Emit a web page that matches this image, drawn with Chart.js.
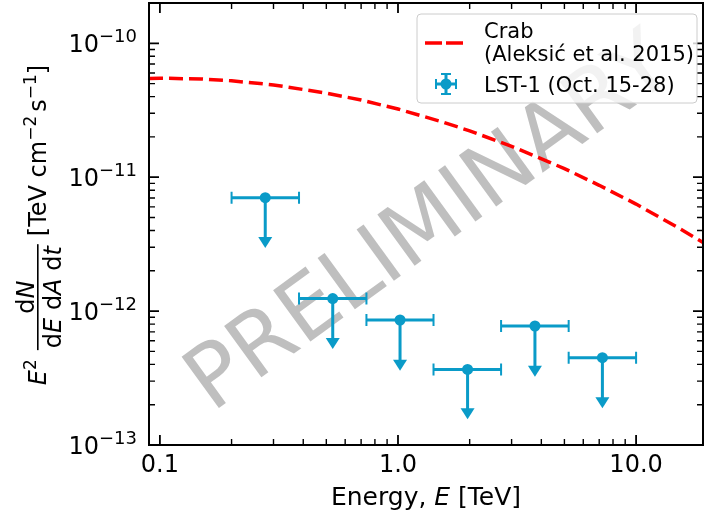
<!DOCTYPE html>
<html>
<head>
<meta charset="utf-8">
<script src="https://cdn.jsdelivr.net/npm/chart.js@4.4.0/dist/chart.umd.min.js"></script>
<style>
  html, body { margin: 0; padding: 0; background: #fff; }
</style>
</head>
<body>
<canvas id="myChart" width="704" height="518"></canvas>
<script>
// Crab reference spectrum, E^2 dN/dE
const crabEnergy = [0.09, 0.1, 0.15, 0.2, 0.3, 0.5, 0.7, 1.0, 1.5, 2.0, 3.0, 5.0, 7.0, 10.0, 15.0, 20.0]
const crabFlux = [5.47e-11, 5.49e-11, 5.41e-11, 5.25e-11, 4.89e-11, 4.25e-11, 3.77e-11, 3.23e-11,
                  2.62e-11, 2.22e-11, 1.70e-11, 1.16e-11, 8.7e-12, 6.3e-12, 4.2e-12, 3.1e-12]

// LST-1 upper limits: bin centre, bin edges, limit value, end of the arrow
const lstEnergy = [0.277, 0.532, 1.02, 1.96, 3.76, 7.22]
const lstBinLow = [0.2, 0.384, 0.737, 1.41, 2.71, 5.21]
const lstBinHigh = [0.384, 0.737, 1.41, 2.71, 5.21, 10.0]
const lstFlux = [7.03e-12, 1.24e-12, 8.58e-13, 3.67e-13, 7.74e-13, 4.49e-13]
const lstArrowEnd = [2.96e-12, 5.21e-13, 3.59e-13, 1.56e-13, 3.24e-13, 1.88e-13]

// tick labels
const xMajorTicks = [0.1, 1, 10]
const xTickLabels = ['0.1', '1.0', '10.0']
const yMajorTicks = [1e-13, 1e-12, 1e-11, 1e-10]
const yTickExponents = ['\u221213', '\u221212', '\u221211', '\u221210']

const FONT = "'DejaVu Sans'"
const BLUE = '#0a9bc8'
const RED = '#ff0000'

// minor tick positions for a log axis (2..9 in every decade)
function minorTicks(min, max) {
  var out = []
  for (var d = Math.floor(Math.log10(min)); d <= Math.ceil(Math.log10(max)); d++) {
    for (var m = 2; m <= 9; m++) {
      var v = m * Math.pow(10, d)
      if (v >= min && v <= max) out.push(v)
    }
  }
  return out
}

// gray PRELIMINARY text behind the data
const watermark = {
  id: 'watermark',
  beforeDatasetsDraw(chart) {
    const ctx = chart.ctx
    ctx.save()
    ctx.translate(426, 218)
    ctx.rotate(-36 * Math.PI / 180)
    ctx.font = '87px ' + FONT
    ctx.fillStyle = 'rgba(128,128,128,0.5)'
    ctx.textAlign = 'center'
    ctx.textBaseline = 'alphabetic'
    ctx.fillText('PRELIMINARY', 0, 32)
    ctx.restore()
  }
}

// horizontal bin bars and downward arrows for the upper limits
const errorBars = {
  id: 'errorBars',
  beforeDatasetsDraw(chart) {
    const ctx = chart.ctx
    const xs = chart.scales.x, ys = chart.scales.y
    ctx.save()
    ctx.strokeStyle = BLUE
    ctx.fillStyle = BLUE
    for (var i = 0; i < lstEnergy.length; i++) {
      var xc = xs.getPixelForValue(lstEnergy[i])
      var x0 = xs.getPixelForValue(lstBinLow[i])
      var x1 = xs.getPixelForValue(lstBinHigh[i])
      var yc = ys.getPixelForValue(lstFlux[i])
      var ye = ys.getPixelForValue(lstArrowEnd[i])
      ctx.lineWidth = 3
      ctx.beginPath()
      ctx.moveTo(x0, yc); ctx.lineTo(x1, yc)
      ctx.moveTo(xc, yc); ctx.lineTo(xc, ye - 9)
      ctx.stroke()
      ctx.lineWidth = 2
      ctx.beginPath()
      ctx.moveTo(x0, yc - 6); ctx.lineTo(x0, yc + 6)
      ctx.moveTo(x1, yc - 6); ctx.lineTo(x1, yc + 6)
      ctx.stroke()
      ctx.beginPath()
      ctx.moveTo(xc - 7, ye - 11); ctx.lineTo(xc + 7, ye - 11); ctx.lineTo(xc, ye)
      ctx.closePath()
      ctx.fill()
    }
    ctx.restore()
  }
}

// frame and inward ticks on all four sides
const frame = {
  id: 'frame',
  afterDatasetsDraw(chart) {
    const ctx = chart.ctx, a = chart.chartArea
    const xs = chart.scales.x, ys = chart.scales.y
    ctx.save()
    ctx.strokeStyle = '#000'
    function tick(list, len, w) {
      ctx.lineWidth = w
      ctx.beginPath()
      list.forEach(function (v) {
        var px = xs.getPixelForValue(v)
        ctx.moveTo(px, a.bottom); ctx.lineTo(px, a.bottom - len)
        ctx.moveTo(px, a.top); ctx.lineTo(px, a.top + len)
      })
      ctx.stroke()
    }
    function ytick(list, len, w) {
      ctx.lineWidth = w
      ctx.beginPath()
      list.forEach(function (v) {
        var py = ys.getPixelForValue(v)
        ctx.moveTo(a.left, py); ctx.lineTo(a.left + len, py)
        ctx.moveTo(a.right, py); ctx.lineTo(a.right - len, py)
      })
      ctx.stroke()
    }
    tick(xMajorTicks, 10, 1.8)
    tick(minorTicks(xs.min, xs.max), 6, 1.4)
    ytick(yMajorTicks, 10, 1.8)
    ytick(minorTicks(ys.min, ys.max), 6, 1.4)
    ctx.lineWidth = 2
    ctx.strokeRect(a.left, a.top, a.right - a.left, a.bottom - a.top)
    ctx.restore()
  }
}

// y tick labels with exponents, axis titles and the legend
const labels = {
  id: 'labels',
  afterDraw(chart) {
    const ctx = chart.ctx, a = chart.chartArea
    const ys = chart.scales.y
    ctx.save()
    ctx.fillStyle = '#000'
    ctx.textBaseline = 'alphabetic'

    // y tick labels 10^n
    yMajorTicks.forEach(function (v, i) {
      var py = ys.getPixelForValue(v)
      var base = py + 8.7
      ctx.font = '18px ' + FONT
      var sw = ctx.measureText(yTickExponents[i]).width
      ctx.textAlign = 'right'
      ctx.fillText(yTickExponents[i], 137, base - 10)
      ctx.font = '24px ' + FONT
      ctx.fillText('10', 137 - sw, base)
    })

    // x title
    ctx.textAlign = 'left'
    var pieces = [['Energy, ', ''], ['E', 'italic '], [' [TeV]', '']]
    var w = 0
    pieces.forEach(function (p) { ctx.font = p[1] + '25px ' + FONT; w += ctx.measureText(p[0]).width })
    var x = (a.left + a.right) / 2 - w / 2
    pieces.forEach(function (p) {
      ctx.font = p[1] + '25px ' + FONT
      ctx.fillText(p[0], x, 505)
      x += ctx.measureText(p[0]).width
    })

    // y title, rotated
    ctx.save()
    ctx.translate(46, 225)
    ctx.rotate(-Math.PI / 2)
    var run = [
      { t: 'E', f: 'italic 24px', dy: 0 },
      { t: '2', f: '17px', dy: -10 },
      { gap: 9 },
      { frac: true },
      { gap: 8 },
      { t: '[TeV cm', f: '24px', dy: 0 },
      { t: '\u22122', f: '17px', dy: -10 },
      { gap: 4 },
      { t: 's', f: '24px', dy: 0 },
      { t: '\u22121', f: '17px', dy: -10 },
      { t: ']', f: '24px', dy: 0 }
    ]
    var num = [['d', '24px'], ['N', 'italic 24px']]
    var den = [['d', '24px'], ['E', 'italic 24px'], [' d', '24px'], ['A', 'italic 24px'], [' d', '24px'], ['t', 'italic 24px']]
    function partsWidth(parts) {
      var s = 0
      parts.forEach(function (p) { ctx.font = p[1] + ' ' + FONT; s += ctx.measureText(p[0]).width })
      return s
    }
    function drawParts(parts, x0, y0) {
      parts.forEach(function (p) {
        ctx.font = p[1] + ' ' + FONT
        ctx.fillText(p[0], x0, y0)
        x0 += ctx.measureText(p[0]).width
      })
    }
    var numW = partsWidth(num), denW = partsWidth(den)
    var fracW = Math.max(numW, denW) + 4
    var total = 0
    run.forEach(function (r) {
      if (r.gap) total += r.gap
      else if (r.frac) total += fracW
      else { ctx.font = r.f + ' ' + FONT; total += ctx.measureText(r.t).width }
    })
    var u = -total / 2
    run.forEach(function (r) {
      if (r.gap) { u += r.gap; return }
      if (r.frac) {
        drawParts(num, u + (fracW - numW) / 2, -12)
        drawParts(den, u + (fracW - denW) / 2, 15)
        ctx.fillRect(u, -9, fracW, 1.6)
        u += fracW
        return
      }
      ctx.font = r.f + ' ' + FONT
      ctx.fillText(r.t, u, r.dy)
      u += ctx.measureText(r.t).width
    })
    ctx.restore()

    // legend
    var lx = 417, ly = 14, lw = 280, lh = 89
    ctx.beginPath()
    ctx.roundRect(lx, ly, lw, lh, 4)
    ctx.fillStyle = 'rgba(255,255,255,0.8)'
    ctx.fill()
    ctx.strokeStyle = '#cccccc'
    ctx.lineWidth = 1
    ctx.stroke()

    ctx.strokeStyle = RED
    ctx.lineWidth = 3.5
    ctx.setLineDash([17, 4])
    ctx.beginPath()
    ctx.moveTo(425, 43); ctx.lineTo(467, 43)
    ctx.stroke()
    ctx.setLineDash([])

    var mx = 446, my = 84
    ctx.strokeStyle = BLUE
    ctx.fillStyle = BLUE
    ctx.lineWidth = 3
    ctx.beginPath()
    ctx.moveTo(mx - 10, my); ctx.lineTo(mx + 10, my)
    ctx.moveTo(mx, my - 10); ctx.lineTo(mx, my + 10)
    ctx.stroke()
    ctx.lineWidth = 2
    ctx.beginPath()
    ctx.moveTo(mx - 10, my - 5); ctx.lineTo(mx - 10, my + 5)
    ctx.moveTo(mx + 10, my - 5); ctx.lineTo(mx + 10, my + 5)
    ctx.moveTo(mx - 5, my - 10); ctx.lineTo(mx + 5, my - 10)
    ctx.moveTo(mx - 5, my + 10); ctx.lineTo(mx + 5, my + 10)
    ctx.stroke()
    ctx.beginPath()
    ctx.arc(mx, my, 5.5, 0, 2 * Math.PI)
    ctx.fill()

    ctx.fillStyle = '#000'
    ctx.font = '21px ' + FONT
    ctx.textAlign = 'left'
    ctx.fillText('Crab', 484, 38)
    ctx.fillText('(Aleksi\u0107 et al. 2015)', 484, 61)
    ctx.fillText('LST-1 (Oct. 15-28)', 484, 92)
    ctx.restore()
  }
}

var ctx = document.getElementById('myChart').getContext('2d')
var chart = new Chart(ctx, {
  type: 'scatter',
  data: {
    datasets: [{
      type: 'line',
      label: 'Crab (Aleksi\u0107 et al. 2015)',
      data: crabEnergy.map(function (e, i) { return { x: e, y: crabFlux[i] } }),
      borderColor: RED,
      borderWidth: 3.5,
      borderDash: [14, 6],
      pointRadius: 0,
      fill: false,
      tension: 0
    }, {
      label: 'LST-1 (Oct. 15-28)',
      data: lstEnergy.map(function (e, i) { return { x: e, y: lstFlux[i] } }),
      backgroundColor: BLUE,
      borderColor: BLUE,
      borderWidth: 0,
      pointRadius: 5.5,
      pointHoverRadius: 5.5
    }]
  },
  options: {
    responsive: false,
    animation: false,
    devicePixelRatio: 1,
    layout: { autoPadding: false, padding: { left: 0, right: 1, top: 3, bottom: 0 } },
    plugins: { legend: { display: false }, tooltip: { enabled: false } },
    scales: {
      x: {
        type: 'logarithmic',
        min: 0.09,
        max: 19.1,
        grid: { display: false, drawTicks: false },
        border: { display: false },
        afterBuildTicks: function (s) { s.ticks = xMajorTicks.map(function (v) { return { value: v } }) },
        ticks: {
          callback: function (v, i) { return xTickLabels[i] },
          font: { family: FONT, size: 24 },
          color: '#000',
          padding: 6,
          maxRotation: 0,
          autoSkip: false
        },
        afterFit: function (s) { s.height = 73 }
      },
      y: {
        type: 'logarithmic',
        min: 1e-13,
        max: 2e-10,
        grid: { display: false, drawTicks: false },
        border: { display: false },
        ticks: { display: false },
        afterFit: function (s) { s.width = 149 }
      }
    }
  },
  plugins: [watermark, errorBars, frame, labels]
})
</script>
</body>
</html>
